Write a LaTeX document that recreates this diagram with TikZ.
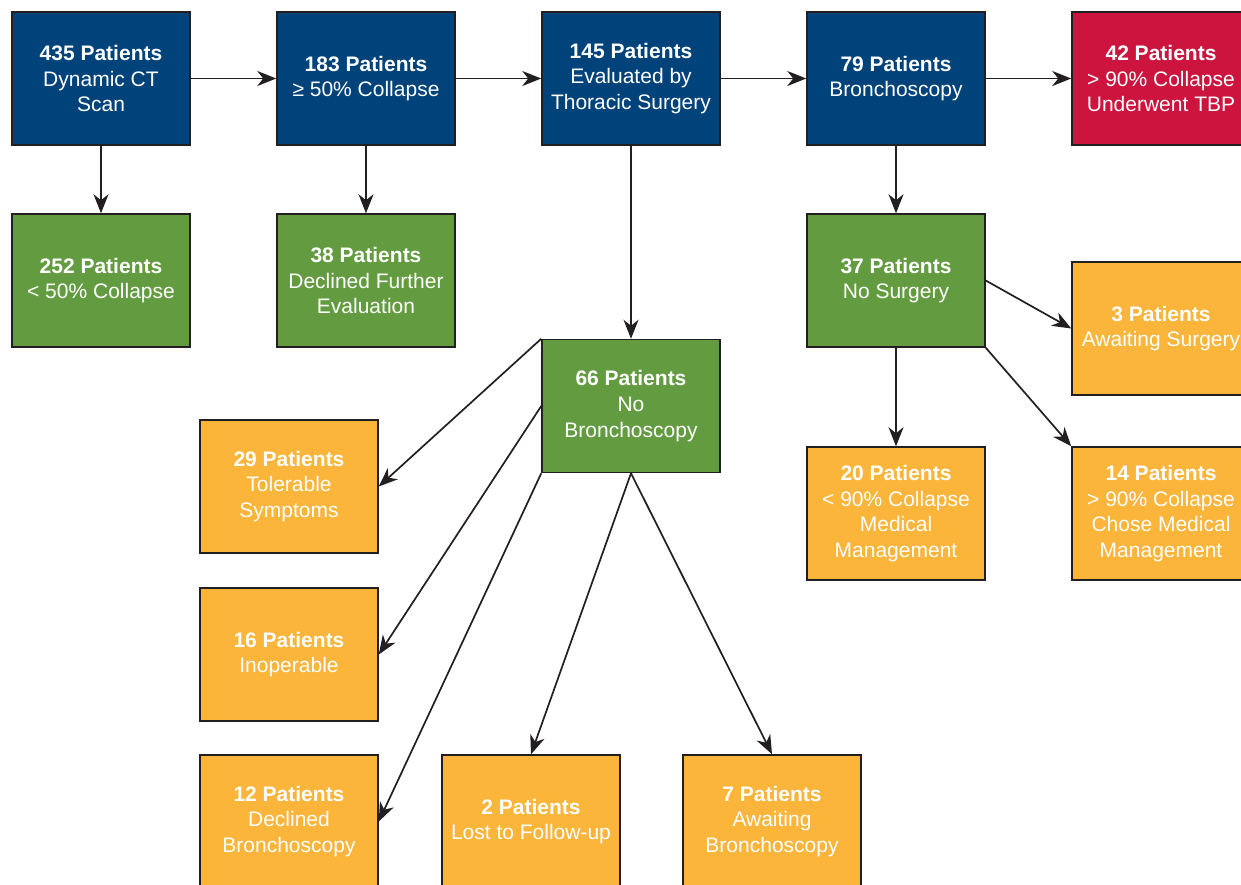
\documentclass[tikz,border=0pt]{standalone}
\usepackage{fontspec}
\setmainfont{Liberation Sans}
\usetikzlibrary{arrows.meta}
\definecolor{cblue}{RGB}{0,66,122}
\definecolor{cgreen}{RGB}{99,156,64}
\definecolor{corange}{RGB}{250,181,58}
\definecolor{cred}{RGB}{204,20,62}
\definecolor{cedge}{RGB}{35,31,32}
\tikzset{
  box/.style={rectangle, draw=cedge, line width=1.5pt, minimum width=178pt, minimum height=133pt,
    inner sep=0pt, align=center, text=white, font=\fontsize{21}{25.8}\selectfont},
  bluebox/.style={box, fill=cblue},
  greenbox/.style={box, fill=cgreen},
  orangebox/.style={box, fill=corange},
  redbox/.style={box, fill=cred},
  conn/.style={draw=cedge, line width=1.7pt, -{Stealth[length=19pt,width=15pt,inset=6pt]}}
}
\begin{document}
\begin{tikzpicture}[x=1pt,y=-1pt]
\useasboundingbox (0,0) rectangle (1241,884);
\node[bluebox] (n435) at (101,78.5) {\textbf{435 Patients}\\Dynamic CT\\Scan};
\node[bluebox] (n183) at (366,78.5) {\textbf{183 Patients}\\≥ 50\% Collapse};
\node[bluebox] (n145) at (631,78.5) {\textbf{145 Patients}\\Evaluated by\\Thoracic Surgery};
\node[bluebox] (n79) at (896,78.5) {\textbf{79 Patients}\\Bronchoscopy};
\node[redbox] (n42) at (1161,78.5) {\textbf{42 Patients}\\> 90\% Collapse\\Underwent TBP};
\node[greenbox] (n252) at (101,280.5) {\textbf{252 Patients}\\< 50\% Collapse};
\node[greenbox] (n38) at (366,280.5) {\textbf{38 Patients}\\Declined Further\\Evaluation};
\node[greenbox] (n37) at (896,280.5) {\textbf{37 Patients}\\No Surgery};
\node[greenbox] (n66) at (631,406) {\textbf{66 Patients}\\No\\Bronchoscopy};
\node[orangebox] (n3) at (1161,328.5) {\textbf{3 Patients}\\Awaiting Surgery};
\node[orangebox] (n29) at (289,486.5) {\textbf{29 Patients}\\Tolerable\\Symptoms};
\node[orangebox] (n20) at (896,513.5) {\textbf{20 Patients}\\< 90\% Collapse\\Medical\\Management};
\node[orangebox] (n14) at (1161,513.5) {\textbf{14 Patients}\\> 90\% Collapse\\Chose Medical\\Management};
\node[orangebox] (n16) at (289,654.5) {\textbf{16 Patients}\\Inoperable};
\node[orangebox] (n12) at (289,821.5) {\textbf{12 Patients}\\Declined\\Bronchoscopy};
\node[orangebox] (n2) at (531,821.5) {\textbf{2 Patients}\\Lost to Follow-up};
\node[orangebox] (n7) at (772,821.5) {\textbf{7 Patients}\\Awaiting\\Bronchoscopy};
\draw[conn] (n435) -- (n183);
\draw[conn] (n183) -- (n145);
\draw[conn] (n145) -- (n79);
\draw[conn] (n79) -- (n42);
\draw[conn] (n435) -- (n252);
\draw[conn] (n183) -- (n38);
\draw[conn] (n145) -- (n66);
\draw[conn] (n79) -- (n37);
\draw[conn] (n37.east) -- (n3.west);
\draw[conn] (n37.south) -- (n20.north);
\draw[conn] (n37.south east) -- (n14.north west);
\draw[conn] (n66.north west) -- (n29.east);
\draw[conn] (n66.west) -- (n16.east);
\draw[conn] (n66.south west) -- (n12.east);
\draw[conn] (n66.south) -- (n2.north);
\draw[conn] (n66.south) -- (n7.north);
\end{tikzpicture}
\end{document}
